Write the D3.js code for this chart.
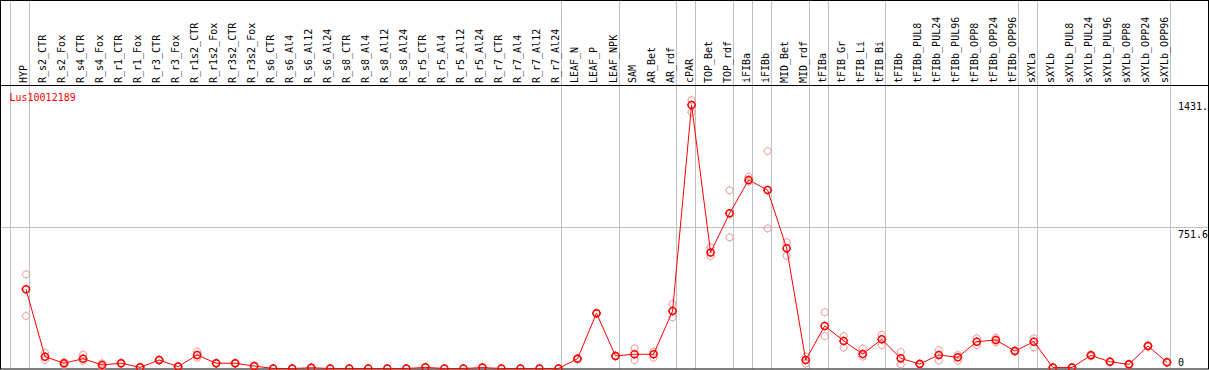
<!DOCTYPE html>
<html>
<head>
<meta charset="utf-8">
<script src="https://cdn.jsdelivr.net/npm/d3@7"></script>
<style>
  html, body { margin: 0; padding: 0; background: #fff; }
  svg { display: block; }
  text { font-family: "DejaVu Sans Mono", monospace; font-size: 10px; }
</style>
</head>
<body>
<svg id="chart"></svg>
<script>
// gene shown
const geneId = "Lus10012189";

// sample names (x axis)
const categories = [
  "HYP",
  "R_s2_CTR", "R_s2_Fox", "R_s4_CTR", "R_s4_Fox", "R_r1_CTR", "R_r1_Fox", "R_r3_CTR", "R_r3_Fox",
  "R_r1s2_CTR", "R_r1s2_Fox", "R_r3s2_CTR", "R_r3s2_Fox",
  "R_s6_CTR", "R_s6_Al4", "R_s6_Al12", "R_s6_Al24",
  "R_s8_CTR", "R_s8_Al4", "R_s8_Al12", "R_s8_Al24",
  "R_r5_CTR", "R_r5_Al4", "R_r5_Al12", "R_r5_Al24",
  "R_r7_CTR", "R_r7_Al4", "R_r7_Al12", "R_r7_Al24",
  "LEAF_N", "LEAF_P", "LEAF_NPK",
  "SAM", "AR_Bet", "AR_rdf",
  "cPAR",
  "TOP_Bet", "TOP_rdf",
  "iFIBa", "iFIBb",
  "MID_Bet", "MID_rdf",
  "tFIBa",
  "tFIB_Gr", "tFIB_Li", "tFIB_Bi",
  "tFIBb", "tFIBb_PUL8", "tFIBb_PUL24", "tFIBb_PUL96", "tFIBb_OPP8", "tFIBb_OPP24", "tFIBb_OPP96",
  "sXYLa",
  "sXYLb", "sXYLb_PUL8", "sXYLb_PUL24", "sXYLb_PUL96", "sXYLb_OPP8", "sXYLb_OPP24", "sXYLb_OPP96"
];

// first sample of every group (a gray line goes before each)
const groupStarts = ["HYP", "R_s2_CTR", "LEAF_N", "SAM", "cPAR", "TOP_Bet", "iFIBa", "iFIBb",
  "MID_Bet", "tFIBa", "tFIB_Gr", "tFIBb", "sXYLa", "sXYLb"];

// mean expression
const meanValues = [
  422,
  63, 28, 52, 19, 28, 6, 45, 10,
  72, 28, 28, 13,
  0, 0, 4, 0,
  0, 0, 0, 0,
  6, 0, 0, 5,
  0, 0, 0, 0,
  52, 294, 67,
  76, 76, 306,
  1405,
  619, 827,
  1005, 951,
  641, 45,
  227,
  147, 77, 156,
  54, 24, 72, 60, 143, 152, 93,
  143,
  5, 5, 70, 36, 22, 120, 33
];

// replicates
const rep1 = [
  502,
  84, 35, 74, 28, 30, 8, 48, 12,
  90, 30, 30, 15,
  0, 0, 6, 0,
  0, 0, 0, 0,
  8, 0, 0, 7,
  0, 0, 0, 0,
  55, 296, 70,
  108, 90, 344,
  1431.4,
  646, 950,
  1022, 1159,
  673, 64,
  300,
  173, 106, 180,
  88, 26, 99, 72, 161, 164, 96,
  161,
  6, 6, 75, 38, 24, 124, 35
];
const rep2 = [
  280,
  45, 20, 40, 10, 26, 4, 42, 8,
  58, 26, 26, 11,
  0, 0, 2, 0,
  0, 0, 0, 0,
  4, 0, 0, 3,
  0, 0, 0, 0,
  49, 292, 64,
  45, 58, 273,
  1366,
  600, 699,
  996, 747,
  601, 26,
  173,
  111, 63, 125,
  22, 22, 42, 42, 125, 140, 90,
  113,
  4, 4, 65, 34, 20, 116, 31
];

// y axis values and their printed labels (top one is cut short by the frame)
const yTicks = [0, 751.6, 1431.4];
const yTickLabels = ["0", "751.6", "1431."];

const W = 1209, H = 370;
const svg = d3.select("#chart").attr("width", W).attr("height", H);

const headerY = 85.5, bottomY = 369;

const x = d3.scaleBand().domain(categories).range([10.5, 1170.5]);
const px = d => x(d) + 15.5;
const y = d3.scaleLinear().domain([0, 1431.4]).range([368.5, 100]);
const crisp = v => Math.floor(v) + 0.5;

// vertical group lines
const vLines = groupStarts.map(c => x(c)).concat([x.range()[1]]);
svg.append("g").selectAll("line")
  .data(vLines)
  .enter().append("line")
    .attr("x1", d => crisp(d)).attr("x2", d => crisp(d))
    .attr("y1", 0).attr("y2", bottomY)
    .attr("stroke", "#c0c0c0");

// horizontal mid grid line
svg.append("line")
  .attr("x1", 0).attr("x2", W)
  .attr("y1", crisp(y(yTicks[1]))).attr("y2", crisp(y(yTicks[1])))
  .attr("stroke", "#c0c0c0");

// sample labels, rotated
svg.append("g").selectAll("text")
  .data(categories)
  .enter().append("text")
    .attr("transform", d => "translate(" + (px(d) + 1) + ",83) rotate(-90)")
    .attr("fill", "#000")
    .text(d => d);

// frame + header line
svg.append("rect")
  .attr("x", 0.5).attr("y", 0.5)
  .attr("width", W - 1).attr("height", bottomY - 0.5)
  .attr("fill", "none").attr("stroke", "#000");
svg.append("line")
  .attr("x1", 0).attr("x2", W)
  .attr("y1", headerY).attr("y2", headerY)
  .attr("stroke", "#000");

// y labels
svg.append("g").selectAll("text")
  .data(yTicks)
  .enter().append("text")
    .attr("x", 1178)
    .attr("y", d => Math.min(y(d) + 10, 365.5))
    .attr("fill", "#000")
    .text((d, i) => yTickLabels[i]);

// gene name
svg.append("text")
  .attr("x", 9.5).attr("y", 100.5)
  .attr("fill", "#ff0000")
  .text(geneId);

function marker(g, color, sw) {
  const r = 3.5;
  g.append("circle").attr("r", r).attr("fill", "none").attr("stroke", color).attr("stroke-width", sw);
  g.append("path")
    .attr("d", "M0," + (-r - 1) + "V" + (-r) + "M0," + r + "V" + (r + 1) +
               "M" + (-r - 1) + ",0H" + (-r) + "M" + r + ",0H" + (r + 1))
    .attr("stroke", color).attr("stroke-width", 1);
}

// replicates
[rep1, rep2].forEach(function (rep) {
  svg.append("g").selectAll("g")
    .data(categories)
    .enter().append("g")
      .attr("transform", (d, i) => "translate(" + px(d) + "," + y(rep[i]) + ")")
      .each(function () { marker(d3.select(this), "#f0a0a0", 1); });
});

// mean line
const line = d3.line()
  .x(d => px(d))
  .y((d, i) => y(meanValues[i]));
svg.append("path")
  .datum(categories)
  .attr("d", line)
  .attr("fill", "none")
  .attr("stroke", "#ff0000")
  .attr("stroke-width", 1);

// mean points
svg.append("g").selectAll("g")
  .data(categories)
  .enter().append("g")
    .attr("transform", (d, i) => "translate(" + px(d) + "," + y(meanValues[i]) + ")")
    .each(function () { marker(d3.select(this), "#ff0000", 1.5); });
</script>
</body>
</html>
